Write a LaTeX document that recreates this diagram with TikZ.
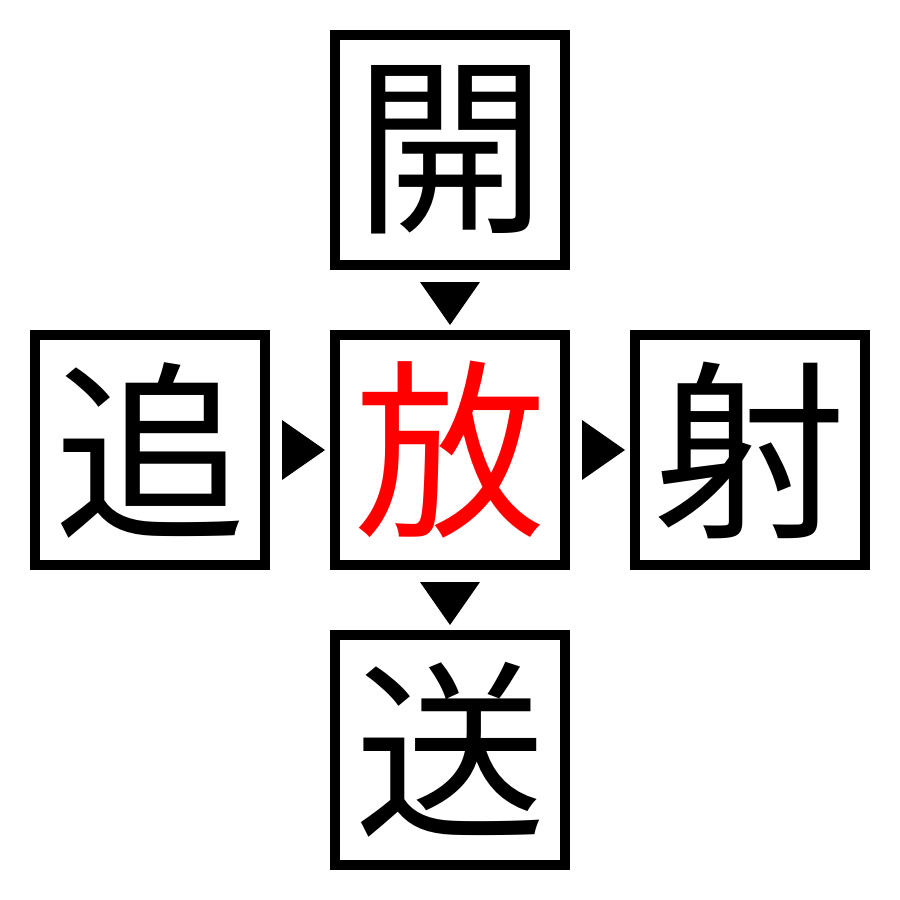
\documentclass[tikz,border=0pt]{standalone}
\usepackage{fontspec}
\newfontfamily\cjk{Noto Sans CJK JP}
\begin{document}
\begin{tikzpicture}[x=1pt,y=-1pt,
  kbox/.style={draw=black,line width=10pt,minimum size=230pt,inner sep=0pt,font=\cjk\fontsize{192}{192}\selectfont},
  tri/.style={fill=black,draw=none}]
\useasboundingbox (0,0) rectangle (900,900);
\node[kbox] (top) at (450,150) {開};
\node[kbox] (left) at (150,450) {追};
\node[kbox,text=red] (mid) at (450,450) {放};
\node[kbox] (right) at (750,450) {射};
\node[kbox] (bot) at (450,750) {送};
\coordinate (t1) at (450,282);
\coordinate (t2) at (282,450);
\coordinate (t3) at (582,450);
\coordinate (t4) at (450,582);
\fill[tri] ([xshift=-30pt]t1) -- ([xshift=30pt]t1) -- ([yshift=-43pt]t1) -- cycle;
\fill[tri] ([yshift=-30pt]t2) -- ([yshift=30pt]t2) -- ([xshift=43pt]t2) -- cycle;
\fill[tri] ([yshift=-30pt]t3) -- ([yshift=30pt]t3) -- ([xshift=43pt]t3) -- cycle;
\fill[tri] ([xshift=-30pt]t4) -- ([xshift=30pt]t4) -- ([yshift=-43pt]t4) -- cycle;
\end{tikzpicture}
\end{document}
